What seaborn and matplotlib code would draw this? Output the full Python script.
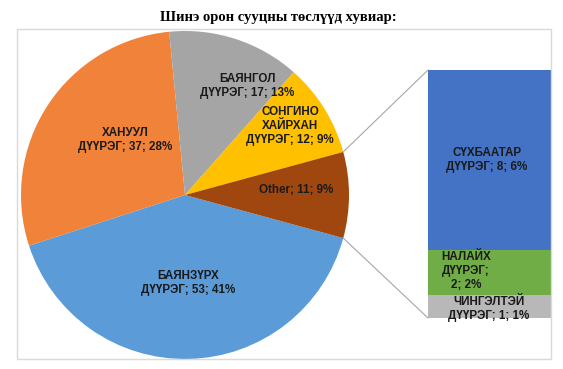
import matplotlib
matplotlib.use("Agg")
import matplotlib.pyplot as plt
from matplotlib.patches import Rectangle, ConnectionPatch
import numpy as np
import seaborn as sns

sns.set_theme(style="white")
plt.rcParams['font.family'] = ['Liberation Sans', 'DejaVu Sans']

# ---- data ----
title = "Шинэ орон сууцны төслүүд хувиар:"
pie_labels = ["БАЯНЗҮРХ\nДҮҮРЭГ", "ХАНУУЛ\nДҮҮРЭГ", "БАЯНГОЛ\nДҮҮРЭГ",
              "СОНГИНО\nХАЙРХАН\nДҮҮРЭГ", "Other"]
pie_values = [53, 37, 17, 12, 11]
pie_pcts = [41, 28, 13, 9, 9]
bar_labels = ["ЧИНГЭЛТЭЙ\nДҮҮРЭГ", "НАЛАЙХ\nДҮҮРЭГ;\n", "СҮХБААТАР\nДҮҮРЭГ"]
bar_values = [1, 2, 8]
bar_pcts = [1, 2, 6]

pie_colors = ["#5A9BD8", "#F0823A", "#A5A5A5", "#FFC000", "#A0470F"]
bar_colors = ["#B8B8B8", "#70AD47", "#4472C4"]

W, H = 563, 369
fig = plt.figure(figsize=(W / 100, H / 100), dpi=100)

def fx(px):
    return px / W

def fy(py):
    return 1 - py / H

# frame
fig.patches.append(Rectangle((fx(17), fy(359)), fx(551) - fx(17), fy(29) - fy(359),
                             transform=fig.transFigure, fill=False,
                             edgecolor="#D9D9D9", linewidth=1.0))

fig.text(fx(278), fy(18), title, ha="center", va="center",
         fontsize=10.5, fontweight="bold", family=["Liberation Serif", "DejaVu Serif"],
         color="black")

# ---- pie ----
cx, cy, r = 185, 195, 164
ax_pie = fig.add_axes([fx(cx - r), fy(cy + r), fx(2 * r), fy(cy - r) - fy(cy + r)])
total = sum(pie_values)
other_ang = pie_values[-1] / total * 360
start = -other_ang / 2
wedges, _ = ax_pie.pie(pie_values, colors=pie_colors, startangle=start,
                       counterclock=False, radius=1,
                       wedgeprops=dict(linewidth=0))
ax_pie.set_xlim(-1, 1)
ax_pie.set_ylim(-1, 1)
ax_pie.set_aspect("equal")
ax_pie.axis("off")

FS = 8.4
label_pos = [(188, 283), (125, 140), (247, 86), (290, 126), (296, 190)]
for lab, v, p, (px, py) in zip(pie_labels, pie_values, pie_pcts, label_pos):
    txt = f"{lab}; {v}; {p}%"
    fig.text(fx(px), fy(py), txt, ha="center", va="center", fontsize=FS,
             fontweight="bold", color="#1A1A1A", linespacing=1.2)

# ---- bar ----
bx0, bx1, by0, by1 = 428, 551, 70, 318
ax_bar = fig.add_axes([fx(bx0), fy(by1), fx(bx1) - fx(bx0), fy(by0) - fy(by1)])
bottom = 0
for v, c in zip(bar_values, bar_colors):
    ax_bar.bar([0], [v], bottom=bottom, width=1.0, color=c, linewidth=0)
    bottom += v
ax_bar.set_xlim(-0.5, 0.5)
ax_bar.set_ylim(0, sum(bar_values))
ax_bar.axis("off")

bar_label_pos = [(489, 309), (466, 271), (487, 160)]
for lab, v, p, (px, py) in zip(bar_labels, bar_values, bar_pcts, bar_label_pos):
    if lab.endswith("\n"):
        txt = f"{lab}{v}; {p}%"
    else:
        txt = f"{lab}; {v}; {p}%"
    fig.text(fx(px), fy(py), txt, ha="center", va="center", fontsize=FS,
             fontweight="bold", color="#1A1A1A", linespacing=1.2)

# connector lines
a = np.deg2rad(other_ang / 2)
for sgn, ybar in [(1, sum(bar_values)), (-1, 0)]:
    con = ConnectionPatch(xyA=(np.cos(a), sgn * np.sin(a)), coordsA=ax_pie.transData,
                          xyB=(-0.5, ybar), coordsB=ax_bar.transData,
                          color="#A6A6A6", linewidth=0.8)
    fig.add_artist(con)

fig.savefig("out.png", dpi=100)
